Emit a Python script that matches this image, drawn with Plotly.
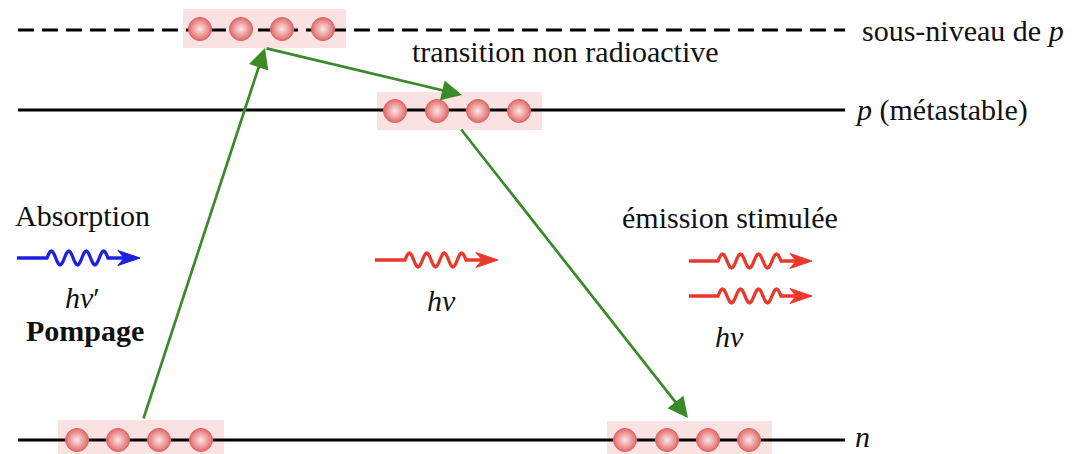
import math
import plotly.graph_objects as go

W, H = 1077, 454
OFF = 8  # default page body margin in the browser

# ---- diagram data (pixel-space coordinates of the drawing) ----
level_names = ["sous-niveau", "p", "n"]
level_y = [30, 110, 440]
level_dash = ["16px,8px", "solid", "solid"]
level_x0, level_x1 = 18, 845
level_labels = ["sous-niveau de <i>p</i>", "<i>p</i> (métastable)", "<i>n</i>"]
level_label_x = [860, 853, 853]
level_label_y = [30, 110, 436]

# atom groups: (x centres), y centre, box extents
group_atoms_x = [
    [200, 241, 282, 323],
    [395, 437, 478, 519],
    [77, 118, 159, 201],
    [625, 667, 708, 749],
]
group_y = [29, 111, 440, 440]
group_box_x0 = [183, 377, 58, 607]
group_box_x1 = [346, 542, 224, 772]
group_box_y0 = [9, 92, 420, 421]
group_box_y1 = [48, 130, 460, 460]

# green transition arrows: start -> tip
trans_start = [(143, 420), (265, 48), (460, 128)]
trans_tip = [(265, 48), (462, 95), (688, 418)]

# photon (wavy) arrows: x start, wave start, wave end, tip x, y, colour
photon_x0 = [17, 375, 689, 689]
photon_w0 = [47, 405, 718, 718]
photon_w1 = [108, 466, 781, 781]
photon_tip = [140, 498, 812, 812]
photon_y = [258, 260, 261, 296]
photon_color = ["#1f1fe0", "#e8392a", "#e8392a", "#e8392a"]

texts = ["transition non radioactive", "Absorption", "<i>hν</i>′", "<b>Pompage</b>",
         "<i>hν</i>", "émission stimulée", "<i>hν</i>"]
text_x = [565, 82, 82, 85, 441, 730, 729]
text_y = [51, 215, 297, 330, 300, 217, 336]

FONT = "Liberation Serif"
FS = 30
GREEN = "#3a8a2a"

fig = go.Figure()
shapes = []
annotations = []

# boxes
for i in range(len(group_atoms_x)):
    shapes.append(dict(type="rect", xref="x", yref="y", layer="below",
                       x0=group_box_x0[i], x1=group_box_x1[i],
                       y0=group_box_y0[i], y1=group_box_y1[i],
                       fillcolor="#fbe2e2", line=dict(width=0)))

# level lines
for y, d in zip(level_y, level_dash):
    fig.add_trace(go.Scatter(x=[level_x0, level_x1], y=[y, y], mode="lines",
                             line=dict(color="black", width=3, dash=d),
                             hoverinfo="skip", showlegend=False))

# atoms
for xs, y in zip(group_atoms_x, group_y):
    fig.add_trace(go.Scatter(x=xs, y=[y] * len(xs), mode="markers",
                             marker=dict(size=23, color="#e26a6a",
                                         gradient=dict(type="radial", color="#fde6e6"),
                                         line=dict(width=1, color="#d86666")),
                             hoverinfo="skip", showlegend=False))

# wavy photon arrows as SVG paths (decorative squiggle glyph)
def wave_path(x0, w0, w1, tip, y, n_half=7, amp=7, n=70):
    p = f"M {x0},{y} L {w0},{y}"
    for k in range(1, n + 1):
        t = k / n
        xx = w0 + t * (w1 - w0)
        yy = y - amp * math.sin(t * n_half * math.pi)
        p += f" L {xx:.2f},{yy:.2f}"
    p += f" L {tip - 8},{y}"
    return p

for i in range(len(photon_x0)):
    y = photon_y[i]
    c = photon_color[i]
    shapes.append(dict(type="path", xref="x", yref="y",
                       path=wave_path(photon_x0[i], photon_w0[i], photon_w1[i], photon_tip[i], y),
                       line=dict(color=c, width=3.3)))
    t = photon_tip[i]
    shapes.append(dict(type="path", xref="x", yref="y",
                       path=f"M {t},{y} L {t - 22},{y - 7.5} L {t - 16},{y} L {t - 22},{y + 7.5} Z",
                       fillcolor=c, line=dict(color=c, width=1)))

# green transitions
for (sx, sy), (tx, ty) in zip(trans_start, trans_tip):
    annotations.append(dict(x=tx, y=ty, ax=sx, ay=sy, xref="x", yref="y",
                            axref="x", ayref="y", text="", showarrow=True,
                            arrowhead=2, arrowsize=1.5, arrowwidth=2.7,
                            arrowcolor=GREEN))

# level labels
for lab, lx, ly in zip(level_labels, level_label_x, level_label_y):
    annotations.append(dict(x=lx, y=ly, xref="x", yref="y", text=lab,
                            showarrow=False, xanchor="left", yanchor="middle",
                            font=dict(family=FONT, size=FS, color="#111")))

for t, x, y in zip(texts, text_x, text_y):
    annotations.append(dict(x=x, y=y, xref="x", yref="y", text=t,
                            showarrow=False, xanchor="center", yanchor="middle",
                            font=dict(family=FONT, size=FS, color="#111")))

fig.update_layout(
    width=W, height=H, margin=dict(l=0, r=0, t=0, b=0),
    paper_bgcolor="white", plot_bgcolor="white",
    xaxis=dict(range=[OFF, W + OFF], visible=False, fixedrange=True),
    yaxis=dict(range=[H + OFF, OFF], visible=False, fixedrange=True),
    shapes=shapes, annotations=annotations, showlegend=False,
)

fig.write_html("out.html")
